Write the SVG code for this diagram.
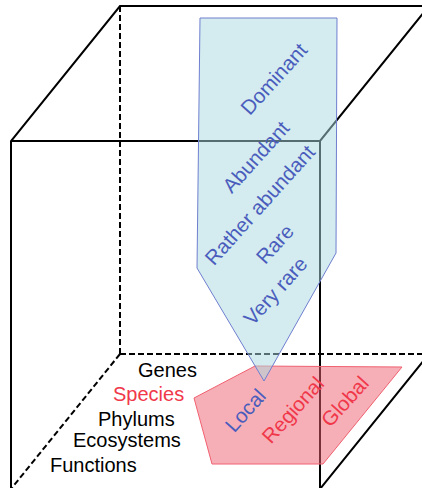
<svg xmlns="http://www.w3.org/2000/svg" width="422" height="488" viewBox="0 0 422 488">
<style>
.edge{stroke:#000;stroke-width:2;fill:none}
.dash{stroke:#000;stroke-width:2;fill:none;stroke-dasharray:6 3}
.t{font-family:"Liberation Sans",Arial,sans-serif;font-size:20px}
.r{font-size:20.5px}
.blue{fill:#4a5dbd}
.red{fill:#f0384a}
.blk{fill:#000}
</style>
<rect width="422" height="488" fill="#fff"/>
<g id="cube">
<line class="dash" x1="120" y1="6" x2="120" y2="354"/>
<line class="dash" x1="120" y1="354" x2="429" y2="354"/>
<line class="dash" x1="120" y1="354" x2="11" y2="489"/>
<path class="edge" d="M11,489 V141 L120,6 H429 L320,141 H11 M320,141 V489 M429,354 L320,489"/>
</g>
<g id="scale">
<polygon points="194,398 255,366 402,367 323,464 212,464" fill="#f06070" fill-opacity="0.5" stroke="#f06070" stroke-width="1"/>
</g>
<g id="abundance">
<polygon points="200,18 337,18 336,253 264,381 197,268" fill="#a9d9df" fill-opacity="0.5" stroke="#6f7fd0" stroke-width="1"/>
<text class="t r blue" text-anchor="middle" x="274" y="86" transform="rotate(-48 274 79)">Dominant</text>
<text class="t r blue" text-anchor="middle" x="256" y="164" transform="rotate(-48 256 157)">Abundant</text>
<text class="t r blue" text-anchor="middle" x="260" y="212" transform="rotate(-48 260 205)">Rather abundant</text>
<text class="t r blue" text-anchor="middle" x="275" y="251" transform="rotate(-48 275 244)">Rare</text>
<text class="t r blue" text-anchor="middle" x="275.5" y="298" transform="rotate(-48 275.5 291)">Very rare</text>
</g>
<g id="scale-labels">
<text class="t r blue" text-anchor="middle" x="245.5" y="417.5" transform="rotate(-48 245.5 410.5)">Local</text>
<text class="t r red" text-anchor="middle" x="293" y="417" transform="rotate(-48 293 410)">Regional</text>
<text class="t r red" text-anchor="middle" x="345" y="408.5" transform="rotate(-48 345 401.5)">Global</text>
</g>
<g id="levels">
<text class="t blk" x="138" y="376.5">Genes</text>
<text class="t red" x="113" y="401">Species</text>
<text class="t blk" x="98" y="426">Phylums</text>
<text class="t blk" x="73" y="447">Ecosystems</text>
<text class="t blk" x="50" y="472">Functions</text>
</g>
</svg>
